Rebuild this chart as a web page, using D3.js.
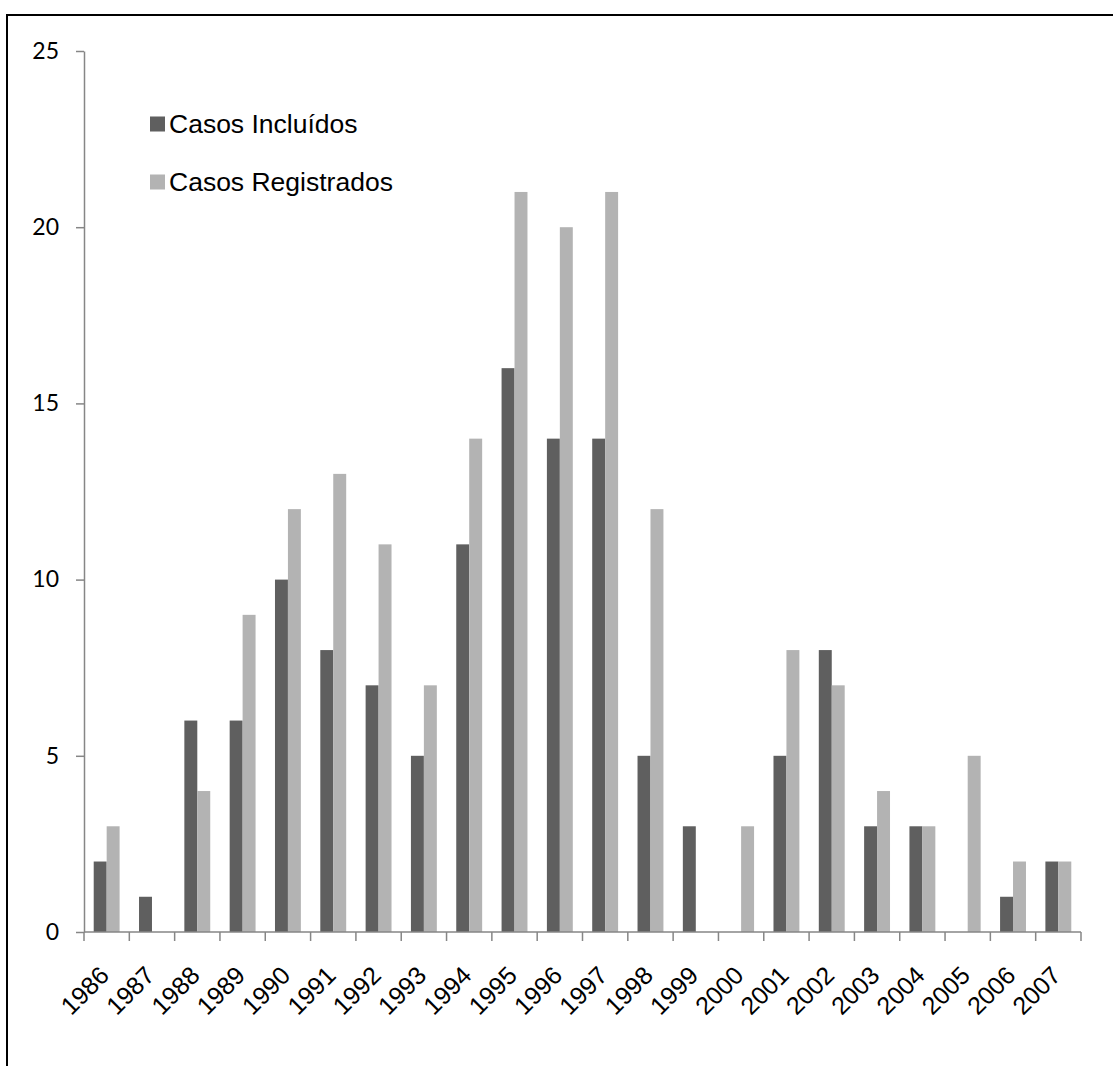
<!DOCTYPE html>
<html>
<head>
<meta charset="utf-8">
<script src="https://cdn.jsdelivr.net/npm/d3@7"></script>
<style>
  html, body { margin: 0; padding: 0; background: #fff; }
  svg { display: block; }
</style>
</head>
<body>
<svg id="chart" width="1113" height="1066"></svg>
<script>
// Cases per year, 1986–2007
const years = ["1986","1987","1988","1989","1990","1991","1992","1993","1994","1995","1996",
               "1997","1998","1999","2000","2001","2002","2003","2004","2005","2006","2007"];
const incluidos   = [2,1,6,6,10,8,7,5,11,16,14,14,5,3,0,5,8,3,3,0,1,2];
const registrados = [3,0,4,9,12,13,11,7,14,21,20,21,12,0,3,8,7,4,3,5,2,2];
const seriesNames = ["Casos Incluídos", "Casos Registrados"];
const yTicks = [0,5,10,15,20,25];

const colors = ["#5f5f5f", "#b3b3b3"];
const axisColor = "#868686";

const svg = d3.select("#chart");

// Frame (top and left edges visible)
svg.append("rect")
  .attr("x", 7).attr("y", 15)
  .attr("width", 1130).attr("height", 1080)
  .attr("fill", "none").attr("stroke", "#000").attr("stroke-width", 2);

const plot = { left: 84, right: 1081, top: 51, bottom: 932 };

const x = d3.scaleBand().domain(years).range([plot.left, plot.right]).paddingInner(0).paddingOuter(0);
const bw = x.bandwidth() / 3.5;          // two bars + 150% gap
const inner = d3.scaleBand().domain([0, 1]).range([0.75 * bw, 0.75 * bw + 2 * bw]);

const y = d3.scaleLinear().domain([0, 25]).range([plot.bottom, plot.top]);

const rows = years.map((yr, i) => ({ year: yr, values: [incluidos[i], registrados[i]] }));

// Bars
const groups = svg.append("g").selectAll("g")
  .data(rows).join("g")
  .attr("transform", d => `translate(${x(d.year)},0)`);

groups.selectAll("rect")
  .data(d => d.values.map((v, k) => ({ v, k })))
  .join("rect")
  .attr("x", d => inner(d.k))
  .attr("width", inner.bandwidth())
  .attr("y", d => y(d.v))
  .attr("height", d => y(0) - y(d.v))
  .attr("fill", d => colors[d.k]);

// Y axis
const yAxis = svg.append("g")
  .attr("transform", `translate(${plot.left},0)`)
  .call(d3.axisLeft(y).tickValues(yTicks).tickSize(8).tickPadding(17).tickSizeOuter(0));
yAxis.select(".domain").attr("stroke", axisColor).attr("stroke-width", 1.5);
yAxis.selectAll(".tick line").attr("stroke", axisColor).attr("stroke-width", 1.5);
yAxis.selectAll(".tick text")
  .attr("fill", "#000")
  .style("font-family", "Lato, 'Open Sans', sans-serif")
  .style("font-size", "23px");

// X axis with ticks at category boundaries
const xAxisG = svg.append("g").attr("transform", `translate(0,${plot.bottom})`);
xAxisG.append("line")
  .attr("x1", plot.left).attr("x2", plot.right)
  .attr("stroke", axisColor).attr("stroke-width", 1.5);
const boundaries = years.map(d => x(d)).concat([plot.right]);
xAxisG.selectAll("line.tk").data(boundaries).join("line")
  .attr("class", "tk")
  .attr("x1", d => d).attr("x2", d => d)
  .attr("y1", 0).attr("y2", 9)
  .attr("stroke", axisColor).attr("stroke-width", 1.5);

xAxisG.selectAll("text").data(years).join("text")
  .attr("transform", d => `translate(${x(d) + x.bandwidth() / 2 + 4},${45}) rotate(-45)`)
  .attr("text-anchor", "end")
  .style("font-family", "'Liberation Sans', Arial, sans-serif")
  .style("font-size", "25px")
  .attr("fill", "#000")
  .text(d => d);

// Legend
const legend = svg.append("g");
const legendY = [124, 182];
seriesNames.forEach((name, k) => {
  legend.append("rect")
    .attr("x", 150).attr("y", legendY[k] - 7.5)
    .attr("width", 15).attr("height", 15)
    .attr("fill", colors[k]);
  legend.append("text")
    .attr("x", 169).attr("y", legendY[k])
    .attr("dy", "0.35em")
    .style("font-family", "'Liberation Sans', Arial, sans-serif")
    .style("font-size", "26.5px")
    .attr("fill", "#000")
    .text(name);
});
</script>
</body>
</html>
